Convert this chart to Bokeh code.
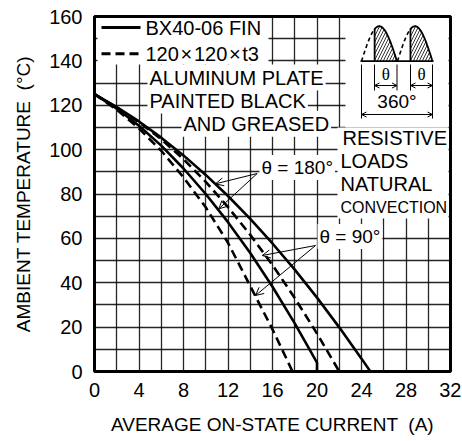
import numpy as np
from bokeh.plotting import figure
from bokeh.models import Range1d, SingleIntervalTicker, FixedTicker, Label, Arrow, OpenHead
from bokeh.embed import file_html
from bokeh.resources import INLINE

# ---------------- data ----------------
fin180_x = [0, 2, 4, 6, 8, 10, 12, 14, 16, 18, 20, 22, 24, 24.8]
fin180_y = [125, 119.2, 112.7, 105.4, 97.4, 88.6, 79.1, 68.8, 57.7, 45.9, 33.3, 19.9, 5.8, 0]

plate180_x = [0, 2, 4, 6, 8, 10, 12, 14, 16, 18, 20, 22]
plate180_y = [125, 119.0, 112.3, 104.7, 95.7, 85.5, 74.1, 61.6, 48.0, 33.1, 17.1, 0]

fin90_x = [0, 2, 4, 6, 8, 10, 12, 14, 16, 18, 20, 20]
fin90_y = [125, 118.5, 110.8, 101.8, 91.5, 80.0, 67.3, 53.4, 38.2, 21.7, 4, 0]

plate90_x = [0, 2, 4, 6, 8, 10, 12, 14, 16, 17.8]
plate90_y = [125, 118, 109.5, 99.5, 87.5, 74, 58, 38.5, 19, 0]

x_ticks = [0, 4, 8, 12, 16, 20, 24, 28, 32]
y_ticks = [0, 20, 40, 60, 80, 100, 120, 140, 160]

x_label = "AVERAGE ON-STATE CURRENT \u00a0(A)"
y_label = "AMBIENT TEMPERATURE \u00a0(\u00b0C)"

# ---------------- layout ----------------
W, H = 461, 440
PX0, PX1, PY0, PY1 = 94.0, 450.0, 16.0, 371.0   # frame in page pixels
XMAX, YMAX = 32.0, 160.0


def dx(px):
    return (px - PX0) / (PX1 - PX0) * XMAX


def dy(py):
    return (PY1 - py) / (PY1 - PY0) * YMAX


FONT = "Liberation Sans"

p = figure(width=W, height=H, x_range=Range1d(0, XMAX), y_range=Range1d(0, YMAX),
           output_backend="svg", toolbar_location=None,
           min_border_left=int(PX0), min_border_right=int(W - PX1),
           min_border_top=int(PY0), min_border_bottom=int(H - PY1))
p.background_fill_color = "white"
p.border_fill_color = "white"
p.outline_line_color = "black"
p.outline_line_width = 3

# axes
for ax in (p.xaxis[0], p.yaxis[0]):
    ax.axis_line_color = None
    ax.major_tick_line_color = None
    ax.minor_tick_line_color = None
    ax.major_label_text_font = FONT
    ax.major_label_text_font_size = "20px"
    ax.major_label_text_color = "black"
    ax.axis_label_text_font = FONT
    ax.axis_label_text_font_size = "19px"
    ax.axis_label_text_font_style = "normal"
    ax.axis_label_text_color = "black"
p.xaxis.ticker = FixedTicker(ticks=x_ticks)
p.yaxis.ticker = FixedTicker(ticks=y_ticks)
p.xaxis.major_label_standoff = 5
p.yaxis.major_label_standoff = 6
p.xaxis.axis_label = x_label
p.yaxis.axis_label = y_label
p.xaxis.axis_label_standoff = 14
p.yaxis.axis_label_standoff = 12

# grid
p.xgrid.ticker = SingleIntervalTicker(interval=2)
p.ygrid.ticker = SingleIntervalTicker(interval=10)
for g in (p.xgrid[0], p.ygrid[0]):
    g.grid_line_color = "black"
    g.grid_line_width = 1.3
    g.grid_line_alpha = 0.85

# white boxes (legend and inset) covering the grid
p.quad(left=[dx(97), dx(345), dx(337)], right=[dx(268), dx(448), dx(448)],
       top=[dy(17.5), dy(17.5), dy(127)], bottom=[dy(64), dy(127), dy(218)],
       fill_color="white", line_color=None)

# ---------------- curves ----------------
LW = 2.6
DASH = "9 5"
p.line(fin180_x, fin180_y, line_color="black", line_width=LW)
p.line(fin90_x, fin90_y, line_color="black", line_width=LW)
p.line(plate180_x, plate180_y, line_color="black", line_width=LW, line_dash=DASH)
p.line(plate90_x, plate90_y, line_color="black", line_width=LW, line_dash=DASH)

# legend samples
p.line([dx(101), dx(140)], [dy(27), dy(27)], line_color="black", line_width=3)
p.line([dx(101), dx(140)], [dy(53.3), dy(53.3)], line_color="black", line_width=3, line_dash="9 5")


def label(px, py, text, size="20px", align="left", bg=True, font=FONT, angle=0.0):
    kw = dict(x=dx(px), y=dy(py), text=text, text_font=font, text_font_size=size,
              text_align=align, text_baseline="middle", text_color="black", angle=angle)
    if bg:
        kw.update(background_fill_color="white", padding=2)
    p.add_layout(Label(**kw))


label(145, 27, "BX40-06 FIN", bg=False)
label(145, 53.3, "120\u200a\u00d7\u200a120\u200a\u00d7\u200at3", bg=False)
label(147, 77, "ALUMINUM PLATE")
label(147, 100, "PAINTED BLACK")
label(181, 123.3, "AND GREASED")
label(342, 137, "RESISTIVE", bg=False)
label(340, 160, "LOADS", bg=False)
label(340, 183, "NATURAL", bg=False)
label(340, 207, "CONVECTION", size="16px", bg=False)
label(259, 167, "\u03b8 = 180\u00b0", size="19px")
label(317, 236, "\u03b8 = 90\u00b0", size="19px")

# arrows to the curves
for (sxp, syp, exp, eyp) in [(256.7, 173.0, 215.0, 183.3), (256.7, 173.0, 218.3, 208.3),
                             (315.0, 245.0, 261.7, 255.0), (315.0, 245.0, 255.0, 295.0)]:
    p.add_layout(Arrow(end=OpenHead(size=8, line_width=1, line_color="black"),
                       x_start=dx(sxp), y_start=dy(syp), x_end=dx(exp), y_end=dy(eyp),
                       line_width=1, line_color="black"))

# ---------------- inset waveform diagram ----------------
BASE = 60.7
AMP = 35.0
FR = 0.37
for (w0, w1) in [(361.0, 396.5), (397.0, 432.0)]:
    t_d = np.linspace(0, FR, 20)
    p.line(dx(w0 + t_d * (w1 - w0)), dy(BASE - AMP * np.sin(np.pi * t_d)),
           line_color="black", line_width=1.6, line_dash="4 3")
    t_s = np.linspace(FR, 1, 40)
    xs = w0 + t_s * (w1 - w0)
    ys = BASE - AMP * np.sin(np.pi * t_s)
    px_poly = np.concatenate([[xs[0]], xs, [w1]])
    py_poly = np.concatenate([[BASE], ys, [BASE]])
    p.patch(dx(px_poly), dy(py_poly), fill_color="white", line_color=None,
            hatch_pattern="/", hatch_color="black", hatch_scale=6, hatch_weight=0.8)
    p.line(dx(px_poly[:-1]), dy(py_poly[:-1]), line_color="black", line_width=1.8)

p.line([dx(360), dx(433)], [dy(BASE), dy(BASE)], line_color="black", line_width=1.8)

seg_x = [374.0, 396.5, 410.0, 432.0, 361.0]
seg_top = [64, 64, 64, 64, 64]
seg_bot = [90, 90, 90, 118, 118]
p.segment(x0=[dx(v) for v in seg_x], x1=[dx(v) for v in seg_x],
          y0=[dy(v) for v in seg_top], y1=[dy(v) for v in seg_bot],
          line_color="black", line_width=1)

label(385.3, 73.5, "\u03b8", size="17px", align="center", bg=False, font="Liberation Serif")
label(421.0, 73.5, "\u03b8", size="17px", align="center", bg=False, font="Liberation Serif")
label(396.5, 100.5, "360\u00b0", size="19px", align="center", bg=False)

for (a0, a1, ay) in [(374.0, 396.5, 85.0), (410.0, 432.0, 85.0), (361.0, 432.0, 114.0)]:
    p.add_layout(Arrow(start=OpenHead(size=5, line_width=1, line_color="black"),
                       end=OpenHead(size=5, line_width=1, line_color="black"),
                       x_start=dx(a0), y_start=dy(ay), x_end=dx(a1), y_end=dy(ay),
                       line_width=1, line_color="black"))

open("out.html", "w").write(file_html(p, INLINE))
